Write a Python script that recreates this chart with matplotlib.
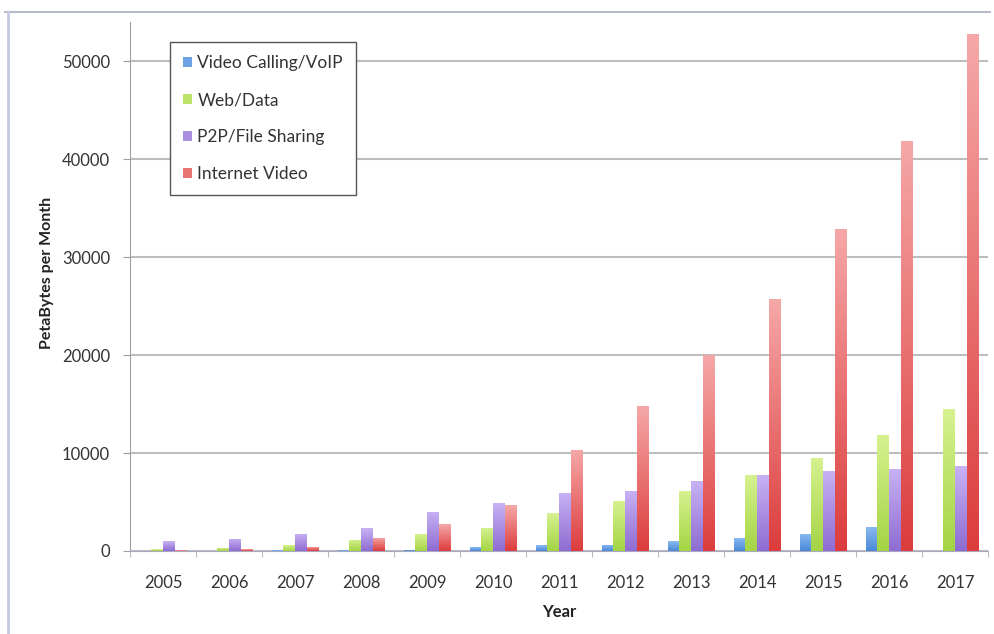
import matplotlib
matplotlib.use("Agg")
import matplotlib.pyplot as plt
import numpy as np
from matplotlib.colors import LinearSegmentedColormap
from matplotlib.lines import Line2D
from matplotlib.patches import Patch

# Monthly traffic by type, PetaBytes per month
years = ["2005", "2006", "2007", "2008", "2009", "2010", "2011",
         "2012", "2013", "2014", "2015", "2016", "2017"]
voip = [20, 30, 50, 80, 120, 400, 570, 650, 1000, 1340, 1780, 2470, 0]
web_data = [200, 350, 600, 1150, 1700, 2350, 3850, 5050, 6150, 7750, 9450, 11850, 14450]
p2p = [1000, 1250, 1750, 2300, 4000, 4850, 5950, 6150, 7100, 7750, 8200, 8400, 8650]
internet_video = [50, 200, 450, 1350, 2750, 4650, 10350, 14800, 20000, 25700, 32900, 41900, 52750]

series = [
    ("Video Calling/VoIP", voip, "#8cbcf2", "#4a88d6"),
    ("Web/Data", web_data, "#d6f290", "#a4d444"),
    ("P2P/File Sharing", p2p, "#c8b2f4", "#8e6cd2"),
    ("Internet Video", internet_video, "#f6a8a8", "#dc3c3c"),
]

plt.rcParams['font.family'] = ['Lato', 'DejaVu Sans']

fig = plt.figure(figsize=(9.95, 6.34), dpi=100)
ax = fig.add_axes([0.1307, 0.131, 0.8623, 0.834])

x = np.arange(len(years))
width = 0.175
grad = np.linspace(0, 1, 256).reshape(-1, 1)

handles = []
for i, (name, vals, top, bottom) in enumerate(series):
    pos = x + (i - 1.5) * width
    cmap = LinearSegmentedColormap.from_list(name, [bottom, top])
    mid = cmap(0.5)
    bars = ax.bar(pos, vals, width=width, color=mid, linewidth=0, zorder=2)
    # shade each bar lighter toward the top
    for b in bars:
        h = b.get_height()
        if h <= 0:
            continue
        x0 = b.get_x()
        img = ax.imshow(grad, cmap=cmap, origin='lower', aspect='auto',
                        extent=[x0, x0 + b.get_width(), 0, h], zorder=3)
        img.set_clip_path(b)
    handles.append(Patch(facecolor=mid, edgecolor='none', label=name))

ax.set_xlim(-0.5, len(years) - 0.5)
ax.set_ylim(0, 54000)
ax.set_yticks([0, 10000, 20000, 30000, 40000, 50000])
ax.set_xticks(x)
ax.set_xticklabels(years)
ax.set_xticks(np.arange(-0.5, len(years)), minor=True)
ax.tick_params(axis='x', which='major', length=0, pad=17, labelsize=12, labelcolor='#333333')
ax.tick_params(axis='x', which='minor', length=4, color='#a8a8b8', direction='out')
ax.tick_params(axis='y', length=5, color='#a0a0a0', pad=9.5, labelsize=12, labelcolor='#333333')

ax.yaxis.grid(True, color='#bdbdbd', linewidth=1.5, zorder=0)
ax.set_axisbelow(True)
for side in ['top', 'right']:
    ax.spines[side].set_visible(False)
ax.spines['left'].set_color('#a0a0a0')
ax.spines['bottom'].set_color('#a8a8c0')

ax.set_xlabel("Year", fontsize=12, fontweight='bold', color='#222222', labelpad=10)
ax.set_ylabel("PetaBytes per Month", fontsize=11.5, fontweight='bold', color='#222222')
ax.yaxis.set_label_coords(-0.089, 0.526)

leg = ax.legend(handles=handles, loc='upper left', bbox_to_anchor=(0.047, 0.962),
                borderaxespad=0, fontsize=12.5, handlelength=0.5, handleheight=0.5,
                handletextpad=0.3, labelspacing=1.2, borderpad=0.75, fancybox=False,
                framealpha=1, edgecolor='#555555')
leg.get_frame().set_linewidth(1.0)
for t in leg.get_texts():
    t.set_color('#333333')

# outer frame edges
fig.add_artist(Line2D([0.005, 0.995], [1 - 12 / 634, 1 - 12 / 634],
                      transform=fig.transFigure, color='#b8bcc8', linewidth=1.5))
fig.add_artist(Line2D([8 / 995, 8 / 995], [0, 1 - 12 / 634],
                      transform=fig.transFigure, color='#c4c8e4', linewidth=2))

fig.savefig("out.png", dpi=100)
